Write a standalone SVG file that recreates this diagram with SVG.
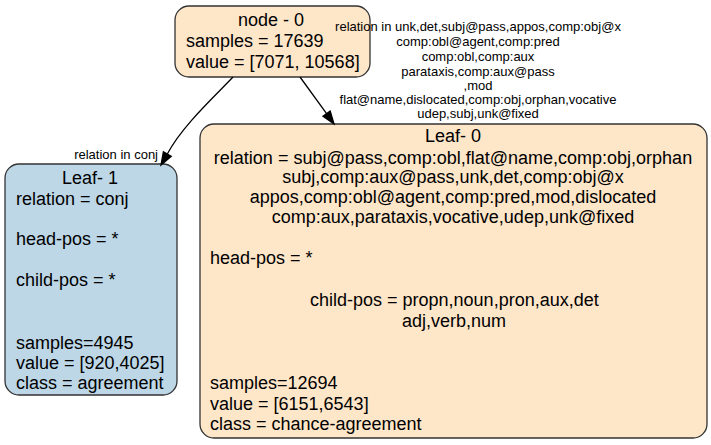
<svg xmlns="http://www.w3.org/2000/svg" width="711" height="445" viewBox="0 0 711 445">
<style>
.box{stroke:#333;stroke-width:1.3}
.peach{fill:#fee6c9}
.blue{fill:#bdd7e7}
text{font-family:"Liberation Sans",Arial,Helvetica,sans-serif;fill:#000}
.n{font-size:18px}
.e{font-size:13px}
.c{text-anchor:middle}
.edge{fill:none;stroke:#000;stroke-width:1.3}
.head{fill:#000;stroke:#000;stroke-width:1.3}
</style>
<rect width="711" height="445" fill="#fff"/>
<g id="node0">
<rect class="box peach" x="175" y="6" width="195" height="71" rx="14"/>
<text class="n c" x="271" y="26">node - 0</text>
<text class="n" x="186" y="47">samples = 17639</text>
<text class="n" x="186" y="68">value = [7071, 10568]</text>
</g>
<g id="leaf1">
<rect class="box blue" x="5" y="164" width="172" height="231" rx="14"/>
<text class="n c" x="90" y="184">Leaf- 1</text>
<text class="n" x="16" y="205">relation = conj</text>
<text class="n" x="16" y="245">head-pos = *</text>
<text class="n" x="16" y="286">child-pos = *</text>
<text class="n" x="16" y="349">samples=4945</text>
<text class="n" x="16" y="369">value = [920,4025]</text>
<text class="n" x="16" y="389">class = agreement</text>
</g>
<g id="leaf0">
<rect class="box peach" x="200" y="124" width="507" height="314" rx="14"/>
<text class="n c" x="453" y="142">Leaf- 0</text>
<text class="n c" x="453" y="164">relation = subj@pass,comp:obl,flat@name,comp:obj,orphan</text>
<text class="n c" x="453" y="183">subj,comp:aux@pass,unk,det,comp:obj@x</text>
<text class="n c" x="453" y="203">appos,comp:obl@agent,comp:pred,mod,dislocated</text>
<text class="n c" x="453" y="223">comp:aux,parataxis,vocative,udep,unk@fixed</text>
<text class="n" x="210" y="264">head-pos = *</text>
<text class="n" x="310" y="306">child-pos = propn,noun,pron,aux,det</text>
<text class="n" x="402" y="327">adj,verb,num</text>
<text class="n" x="210" y="389">samples=12694</text>
<text class="n" x="210" y="410">value = [6151,6543]</text>
<text class="n" x="210" y="430">class = chance-agreement</text>
</g>
<g id="connectors">
<path class="edge" d="M233,77 C215,96 182,126 167.3,154"/>
<polygon class="head" points="171.2,156.3 163.4,151.8 161,165"/>
<path class="edge" d="M300,77 L326.6,113.7"/>
<polygon class="head" points="330.2,111.1 323,116.3 334,124"/>
<text class="e" x="158" y="159" text-anchor="end">relation in conj</text>
<g class="e c">
<text x="478" y="31">relation in unk,det,subj@pass,appos,comp:obj@x</text>
<text x="478" y="46">comp:obl@agent,comp:pred</text>
<text x="478" y="61">comp:obl,comp:aux</text>
<text x="478" y="76">parataxis,comp:aux@pass</text>
<text x="478" y="90">,mod</text>
<text x="478" y="104">flat@name,dislocated,comp:obj,orphan,vocative</text>
<text x="478" y="118">udep,subj,unk@fixed</text>
</g>
</g>
</svg>
